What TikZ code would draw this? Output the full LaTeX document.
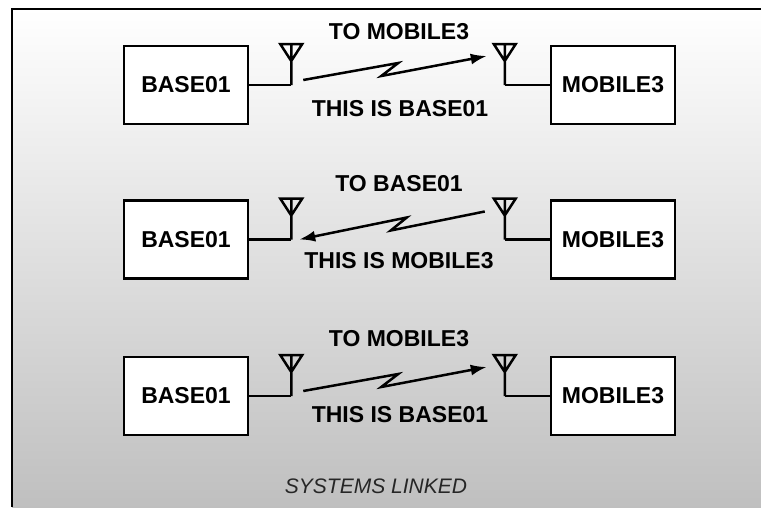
\documentclass[tikz,border=0pt]{standalone}
\usepackage{fontspec}
\setmainfont{Liberation Sans}
\usetikzlibrary{arrows.meta,positioning}

\begin{document}
\begin{tikzpicture} [
      x = 1pt, y = -1pt,
      font = \fontsize{23}{26}\selectfont\bfseries,
      unit/.style = { draw, line width = 2.5pt, fill = white, minimum width = 124pt, minimum height = 78pt, inner sep = 0 },
      wire/.style = { line width = 2.5pt },
      zap/.style = { line width = 2.5pt, -{Latex[length = 16pt, width = 11pt]} },
      msg/.style = { anchor = base, inner sep = 0 },
      antenna/.pic = { \draw [line width = 2.5pt] (-11,-41) -- (11,-41) -- (0,-24) -- cycle (0,-41) -- (0,0); }
      ]

      \useasboundingbox (0,0) rectangle (761,507);
      \shade [top color = white, bottom color = gray!50] (12,9) rectangle (761,507);
      \draw [line width = 2.5pt] (12,507) -- (12,9) -- (761,9);

      % stations
      \node [unit] (base1) at (186,85) {BASE01};
      \node [unit] (mob1) at (613,85) {MOBILE3};
      \node [unit, below = 74pt of base1] (base2) {BASE01};
      \node [unit, below = 74pt of mob1] (mob2) {MOBILE3};
      \node [unit, below = 76pt of base2] (base3) {BASE01};
      \node [unit, below = 76pt of mob2] (mob3) {MOBILE3};

      \coordinate [right = 42pt of base1] (antb1);
      \coordinate [left = 45pt of mob1] (antm1);
      \coordinate [right = 42pt of base2] (antb2);
      \coordinate [left = 45pt of mob2] (antm2);
      \coordinate [right = 42pt of base3] (antb3);
      \coordinate [left = 45pt of mob3] (antm3);

      \foreach \i in {1,2,3} {
        \draw [wire] (base\i.east) -- (antb\i);
        \draw [wire] (mob\i.west) -- (antm\i);
        \pic at (antb\i) {antenna};
        \pic at (antm\i) {antenna};
      }

      % links
      \draw [zap] ([shift = {(12,-5)}] antb1) -- ++(95,-17) -- ++(-17,13) -- ([shift = {(-18,-29)}] antm1);
      \draw [zap] ([shift = {(-20,-28)}] antm2) -- ++(-94,19) -- ++(16,-13) -- ([shift = {(8,0)}] antb2);
      \draw [zap] ([shift = {(12,-5)}] antb3) -- ++(95,-17) -- ++(-17,13) -- ([shift = {(-18,-29)}] antm3);

      % messages
      \node [msg] (to1) at (399,39) {TO MOBILE3};
      \node [msg] (id1) at (400,116) {THIS IS BASE01};
      \node [msg] (to2) at (399,191) {TO BASE01};
      \node [msg] (id2) at (399,268) {THIS IS MOBILE3};
      \node [msg] (to3) at (399,346) {TO MOBILE3};
      \node [msg] (id3) at (400,422) {THIS IS BASE01};

      \node [msg, font = \fontsize{21}{24}\selectfont\itshape, text = black!85] (cap) at (376,493) {SYSTEMS LINKED};
\end{tikzpicture}
\end{document}
